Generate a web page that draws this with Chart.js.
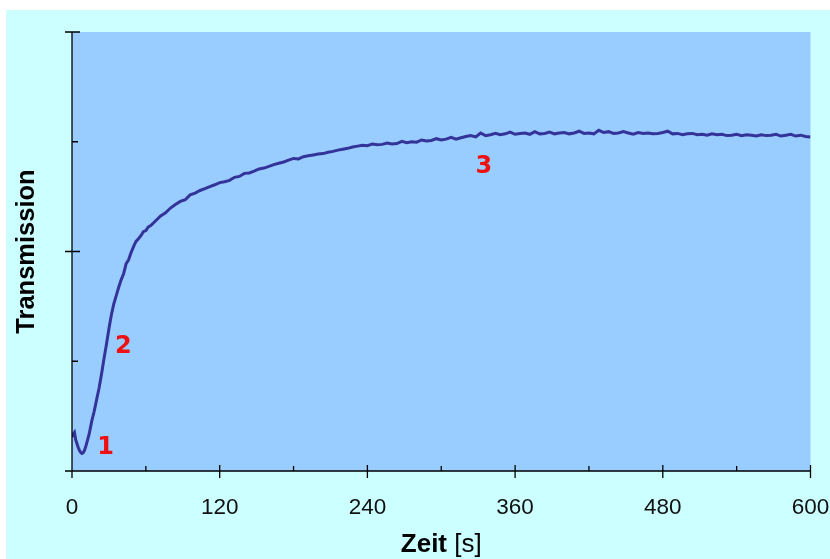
<!DOCTYPE html>
<html>
<head>
<meta charset="utf-8">
<script src="https://cdn.jsdelivr.net/npm/chart.js@4"></script>
<style>
html,body{margin:0;padding:0;background:#ffffff;}
#wrap{width:830px;height:559px;}
</style>
</head>
<body>
<div id="wrap"><canvas id="c" width="830" height="559"></canvas></div>
<script>
// ---- data ----
const times = [0,1,2,3,4,5,6,7,8,9,10,11,12,
  14,16,18,20,22,24,26,28,30,32,34,36,38,40,42,44,46,48,50,52,54,56,58,60,62,64,
  68,72,76,80,84,88,92,96,100,104,108,112,116,120,124,128,132,136,140,144,148,152,156,160,164,168,172,176,180,184,188,192,196,200,204,208,212,216,220,224,228,232,
  236,240,244,248,252,256,260,264,268,272,276,280,284,288,292,296,300,304,308,312,316,320,324,328,332,336,340,344,348,352,356,360,364,368,372,376,380,384,388,392,396,400,404,408,412,416,420,424,428,432,436,440,444,448,452,456,460,464,468,472,476,480,484,488,492,496,500,504,508,512,516,520,524,528,532,536,540,544,548,552,556,560,564,568,572,576,580,584,588,592,596,600];
const transmission = [0.155,0.168,0.176,0.142,0.125,0.108,0.094,0.085,0.080,0.083,0.092,0.108,0.128,
  0.170,0.226,0.272,0.325,0.378,0.442,0.512,0.578,0.648,0.712,0.762,0.800,0.838,0.872,0.900,0.945,0.962,0.995,1.022,1.046,1.058,1.072,1.090,1.095,1.112,1.118,
  1.140,1.162,1.176,1.198,1.214,1.228,1.236,1.258,1.266,1.278,1.286,1.296,1.304,1.314,1.318,1.324,1.338,1.342,1.356,1.358,1.366,1.376,1.380,1.388,1.396,1.402,1.408,1.416,1.424,1.422,1.432,1.436,1.440,1.444,1.446,1.452,1.456,1.462,1.466,1.470,1.476,1.480,
  1.484,1.482,1.490,1.486,1.488,1.494,1.490,1.492,1.502,1.496,1.500,1.498,1.508,1.504,1.506,1.514,1.508,1.512,1.520,1.512,1.518,1.524,1.528,1.522,1.540,1.528,1.532,1.538,1.532,1.536,1.544,1.534,1.538,1.540,1.534,1.546,1.536,1.538,1.544,1.536,1.540,1.542,1.536,1.540,1.548,1.538,1.540,1.536,1.552,1.542,1.546,1.538,1.540,1.546,1.540,1.534,1.542,1.538,1.540,1.536,1.538,1.542,1.548,1.536,1.538,1.532,1.536,1.538,1.532,1.534,1.530,1.536,1.532,1.534,1.528,1.530,1.534,1.528,1.532,1.530,1.526,1.532,1.528,1.530,1.534,1.526,1.530,1.534,1.526,1.530,1.524,1.522];
const xTickLabels = [0,120,240,360,480,600];
const xMinorTicks = [60,180,300,420,540];
const yMajorTicks = [0,1,2];
const yMinorTicks = [0.5,1.5];
const annotations = [
  {text:'1', t:27.2, v:0.107},
  {text:'2', t:41.8, v:0.567},
  {text:'3', t:334.7, v:1.387}
];
const xTitleBold = 'Zeit';
const xTitleUnit = '[s]';
const yTitle = 'Transmission';

const points = times.map((t,i)=>({x:t,y:transmission[i]}));

const decor = {
  id:'decor',
  beforeDraw(chart){
    const ctx = chart.ctx, a = chart.chartArea;
    ctx.save();
    ctx.fillStyle = '#ffffff';
    ctx.fillRect(0,0,chart.width,chart.height);
    ctx.fillStyle = '#ccffff';
    ctx.fillRect(6,10,chart.width-6,chart.height-10);
    ctx.fillStyle = '#99ccff';
    ctx.fillRect(a.left,a.top,a.right-a.left,a.bottom-a.top);
    ctx.restore();
  },
  afterDraw(chart){
    const ctx = chart.ctx, a = chart.chartArea;
    const xs = chart.scales.x, ys = chart.scales.y;
    ctx.save();
    ctx.strokeStyle = '#000000';
    ctx.lineWidth = 1.3;
    ctx.beginPath();
    ctx.moveTo(a.left, a.top); ctx.lineTo(a.left, a.bottom);
    ctx.moveTo(a.left, a.bottom); ctx.lineTo(a.right, a.bottom);
    yMajorTicks.forEach(v=>{
      const y = ys.getPixelForValue(v);
      ctx.moveTo(a.left-7, y); ctx.lineTo(a.left+8, y);
    });
    yMinorTicks.forEach(v=>{
      const y = ys.getPixelForValue(v);
      ctx.moveTo(a.left, y); ctx.lineTo(a.left+6, y);
    });
    xTickLabels.forEach(v=>{
      const x = xs.getPixelForValue(v);
      ctx.moveTo(x, a.bottom-6); ctx.lineTo(x, a.bottom+7);
    });
    xMinorTicks.forEach(v=>{
      const x = xs.getPixelForValue(v);
      ctx.moveTo(x, a.bottom-5); ctx.lineTo(x, a.bottom);
    });
    ctx.stroke();

    // tick labels
    ctx.fillStyle = '#111111';
    ctx.font = '22.5px "Liberation Sans", Arial, sans-serif';
    ctx.textAlign = 'center';
    ctx.textBaseline = 'middle';
    xTickLabels.forEach(v=>{
      ctx.fillText(String(v), xs.getPixelForValue(v), a.bottom+37);
    });

    // x title: bold "Zeit" + regular "[s]"
    const boldFont = 'bold 26px "Liberation Sans", Arial, sans-serif';
    const regFont = '26px "Liberation Sans", Arial, sans-serif';
    ctx.font = boldFont;
    const w1 = ctx.measureText(xTitleBold + ' ').width;
    ctx.font = regFont;
    const w2 = ctx.measureText(xTitleUnit).width;
    const cx = (a.left + a.right)/2;
    let sx = cx - (w1+w2)/2;
    ctx.textAlign = 'left';
    ctx.fillStyle = '#000000';
    ctx.font = boldFont;
    ctx.fillText(xTitleBold + ' ', sx, a.bottom+74);
    ctx.font = regFont;
    ctx.fillText(xTitleUnit, sx+w1, a.bottom+74);

    // y title
    ctx.save();
    ctx.translate(27, (a.top+a.bottom)/2);
    ctx.rotate(-Math.PI/2);
    ctx.textAlign = 'center';
    ctx.textBaseline = 'middle';
    ctx.font = 'bold 25.5px "Liberation Sans", Arial, sans-serif';
    ctx.fillText(yTitle, 0, 0);
    ctx.restore();

    // annotations
    ctx.fillStyle = '#ee1111';
    ctx.font = 'bold 24px "DejaVu Sans", Verdana, sans-serif';
    ctx.textAlign = 'center';
    ctx.textBaseline = 'middle';
    annotations.forEach(an=>{
      ctx.fillText(an.text, xs.getPixelForValue(an.t), ys.getPixelForValue(an.v));
    });
    ctx.restore();
  }
};

new Chart(document.getElementById('c'), {
  type:'line',
  data:{datasets:[{
    data: points,
    borderColor:'#333399',
    borderWidth:3,
    pointRadius:0,
    tension:0,
    fill:false
  }]},
  options:{
    responsive:false,
    animation:false,
    layout:{padding:{left:72,top:32,right:19.5,bottom:88}},
    plugins:{legend:{display:false},tooltip:{enabled:false}},
    scales:{
      x:{type:'linear',min:0,max:600,display:false},
      y:{type:'linear',min:0,max:2,display:false}
    }
  },
  plugins:[decor]
});
</script>
</body>
</html>
